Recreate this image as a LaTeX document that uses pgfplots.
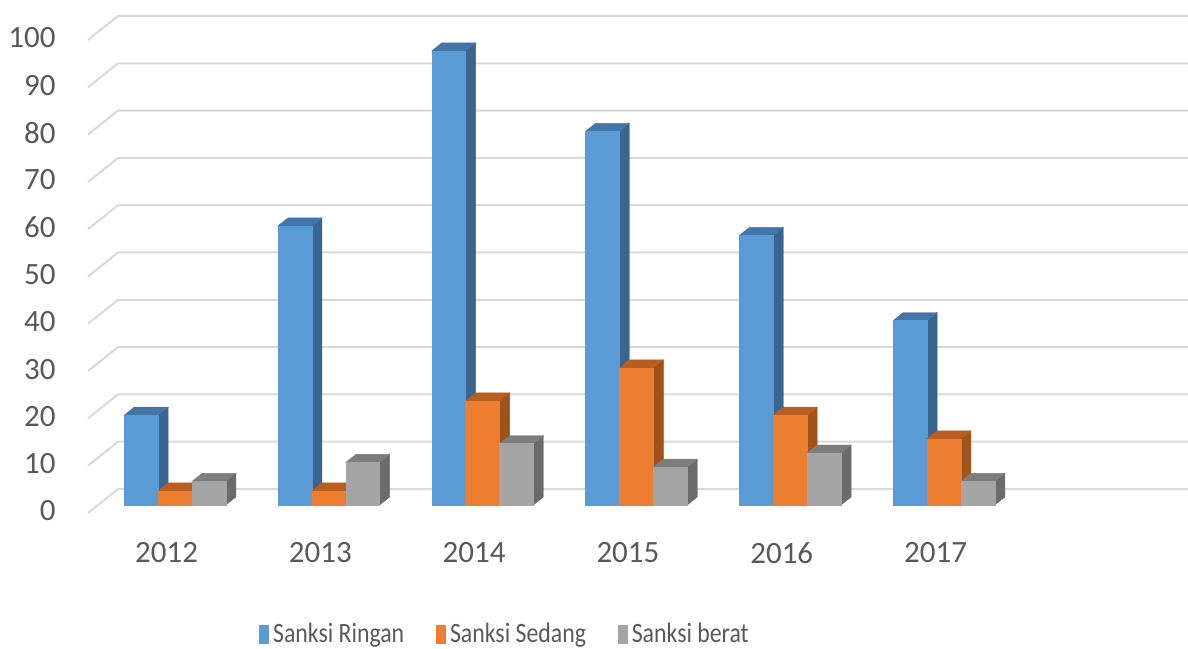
\documentclass[border=0pt]{standalone}
\usepackage{pgfplots}
\pgfplotsset{compat=1.18}
\usepackage{pgfplotstable}
\usepackage{fontspec}
\setmainfont{Carlito}
\newfontfamily\legfont{Carlito}[FakeStretch=0.85]

\definecolor{cblue}{HTML}{5B9BD5}
\definecolor{cblueside}{HTML}{3A6591}
\definecolor{cbluetop}{HTML}{4275A8}
\definecolor{corange}{HTML}{ED7D31}
\definecolor{corangeside}{HTML}{A0521A}
\definecolor{corangetop}{HTML}{B95E1F}
\definecolor{cgray}{HTML}{A5A5A5}
\definecolor{cgrayside}{HTML}{6B6B6B}
\definecolor{cgraytop}{HTML}{7D7D7D}
\definecolor{gridcol}{HTML}{D9D9D9}
\definecolor{txt}{HTML}{595959}

\pgfplotstableread{
year ringan sedang berat
2012 19 3 5
2013 59 3 9
2014 96 22 13
2015 79 29 8
2016 57 19 11
2017 39 14 5
}\datatable

% #1 category index, #2 series index, #3 value, #4 front, #5 side, #6 top
\newcommand\threedbar[6]{%
  \pgfmathsetmacro\xl{#1-0.3306+#2*0.2204}%
  \pgfmathsetmacro\xr{\xl+0.2204}%
  \pgfmathsetmacro\xlb{\xl+0.065}%
  \pgfmathsetmacro\xrb{\xr+0.065}%
  \pgfmathsetmacro\yt{#3+1.69}%
  \edef\doplot{%
    \noexpand\addplot[forget plot, fill=#5, draw=#5, line width=0.2pt] coordinates {(\xr,0) (\xrb,1.69) (\xrb,\yt) (\xr,#3)} --cycle;
    \noexpand\addplot[forget plot, fill=#6, draw=#6, line width=0.2pt] coordinates {(\xl,#3) (\xr,#3) (\xrb,\yt) (\xlb,\yt)} --cycle;
    \noexpand\addplot[forget plot, fill=#4, draw=#4, line width=0.2pt] coordinates {(\xl,0) (\xr,0) (\xr,#3) (\xl,#3)} --cycle;
  }\doplot
}

\begin{document}
\begin{tikzpicture}
\useasboundingbox (-44pt,-67.5pt) rectangle (550pt,256.5pt);
\begin{axis}[
  at={(0,0)}, anchor=south west,
  scale only axis, width=550pt, height=248.5pt,
  xmin=-0.5657, xmax=6.5865, ymin=-1.691, ymax=103.38,
  clip=false,
  axis line style={draw=none},
  major tick length=0pt,
  xtick={-0.055,0.945,1.945,2.945,3.945,4.945},
  xticklabels={2012,2013,2014,2015,2016,2017},
  ytick={-1.691,8.309,18.309,28.309,38.309,48.309,58.309,68.309,78.309,88.309,98.309},
  yticklabels={0,10,20,30,40,50,60,70,80,90,100},
  tick label style={font=\fontsize{15.5}{18}\selectfont, text=txt, inner sep=0pt},
  /pgf/number format/assume math mode=true,
  yticklabel style={anchor=east, xshift=-16pt, yshift=1pt},
  xticklabel style={anchor=north, yshift=-14.5pt},
  legend style={at={(0.38,-0.245)}, anchor=center, draw=none, fill=none,
    legend columns=-1, font=\legfont\fontsize{14}{16}\selectfont, text=txt,
    /tikz/every even column/.append style={column sep=14pt}},
]
\pgfplotsinvokeforeach{0,10,...,100}{
  \pgfmathsetmacro\ga{#1-1.691}
  \pgfmathsetmacro\gb{#1+3.383}
  \edef\tmp{\noexpand\addplot[forget plot, gridcol, line width=1pt] coordinates {(-0.5657,\ga) (-0.3706,\gb) (6.5865,\gb)};}\tmp
}
\pgfplotsinvokeforeach{0,...,5}{
  \pgfplotstablegetelem{#1}{ringan}\of\datatable \let\va\pgfplotsretval
  \threedbar{#1}{0}{\va}{cblue}{cblueside}{cbluetop}
  \pgfplotstablegetelem{#1}{sedang}\of\datatable \let\vb\pgfplotsretval
  \threedbar{#1}{1}{\vb}{corange}{corangeside}{corangetop}
  \pgfplotstablegetelem{#1}{berat}\of\datatable \let\vc\pgfplotsretval
  \threedbar{#1}{2}{\vc}{cgray}{cgrayside}{cgraytop}
}
\addlegendimage{legend image code/.code={\fill[cblue] (0pt,-4.5pt) rectangle (4.5pt,4.5pt);}}
\addlegendentry{Sanksi Ringan}
\addlegendimage{legend image code/.code={\fill[corange] (0pt,-4.5pt) rectangle (4.5pt,4.5pt);}}
\addlegendentry{Sanksi Sedang}
\addlegendimage{legend image code/.code={\fill[cgray] (0pt,-4.5pt) rectangle (4.5pt,4.5pt);}}
\addlegendentry{Sanksi berat}
\end{axis}
\end{tikzpicture}
\end{document}
